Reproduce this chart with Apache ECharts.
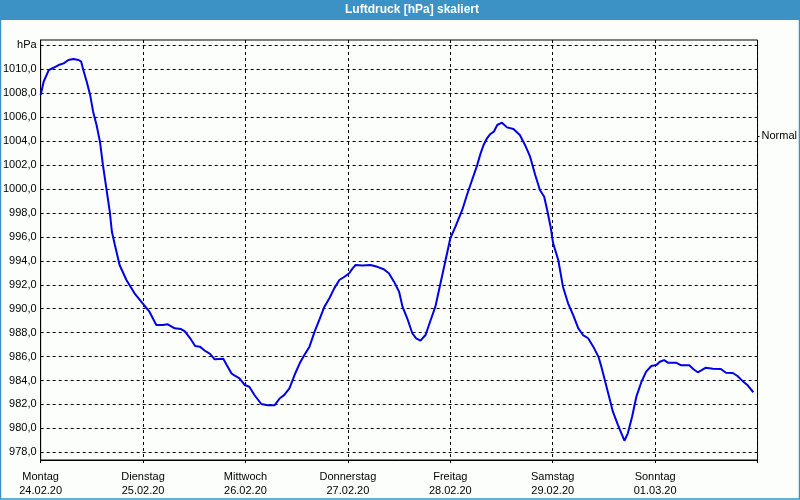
<!DOCTYPE html>
<html><head><meta charset="utf-8">
<script src="https://cdn.jsdelivr.net/npm/echarts@6/dist/echarts.min.js"></script>
<style>html,body{margin:0;padding:0;background:#fcfefc}#c{width:800px;height:500px}</style>
</head><body><div id="c"></div><script>
const titleText = 'Luftdruck [hPa] skaliert';
const dayNames = ['Montag','Dienstag','Mittwoch','Donnerstag','Freitag','Samstag','Sonntag'];
const dayDates = ['24.02.20','25.02.20','26.02.20','27.02.20','28.02.20','29.02.20','01.03.20'];
const yTickValues = [978,980,982,984,986,988,990,992,994,996,998,1000,1002,1004,1006,1008,1010,1012];
const yTickLabels = ['978,0','980,0','982,0','984,0','986,0','988,0','990,0','992,0','994,0','996,0','998,0','1000,0','1002,0','1004,0','1006,0','1008,0','1010,0','hPa'];
const normalValue = 1004.4;
const normalLabel = 'Normal';
const hours = [0,0.7,1.9,3.0,4.2,5.4,6.5,7.7,8.9,9.5,10.0,10.8,11.6,12.3,13.1,13.9,14.6,15.4,16.2,16.7,17.4,18.5,20.1,22.0,24.2,25.5,27.1,28.6,29.8,31.4,32.9,33.8,35.0,36.2,37.3,38.5,39.7,40.8,42.8,43.6,44.7,45.5,46.6,47.8,48.9,50.1,51.7,53.2,54.8,56.0,57.1,58.3,59.5,60.7,61.8,63.0,64.2,65.3,66.5,67.7,68.8,70.0,71.2,72.3,73.1,73.8,75.4,77.3,78.9,80.4,81.6,82.8,84.0,84.8,85.9,87.1,88.0,89.0,90.2,91.4,92.5,93.7,94.9,96.0,97.2,98.8,99.9,101.1,102.3,103.1,103.8,104.6,105.4,106.2,107.0,108.1,109.3,110.8,112.3,113.5,114.7,115.9,117.0,118.0,118.7,119.5,120.1,121.3,122.4,123.6,124.8,126.0,127.1,128.3,129.5,130.7,131.4,132.2,133.0,134.1,135.3,136.8,137.6,138.6,139.6,140.8,141.9,143.1,144.3,145.1,146.1,147.0,148.9,150.1,152.0,153.0,154.0,154.7,155.9,157.5,159.4,160.6,162.2,163.3,164.4,165.6,167.0];
const pressure = [1007.85,1008.96,1009.94,1010.13,1010.36,1010.5,1010.78,1010.86,1010.78,1010.64,1009.94,1008.96,1007.85,1006.46,1005.35,1003.95,1002.0,1000.06,998.1,996.43,995.32,993.65,992.4,991.29,990.31,989.75,988.64,988.64,988.7,988.36,988.3,988.1,987.55,986.88,986.83,986.49,986.22,985.77,985.82,985.3,984.6,984.4,984.18,983.63,983.48,982.79,982.04,981.93,981.93,982.5,982.8,983.35,984.46,985.44,986.13,986.83,988.08,989.06,990.17,990.9,991.7,992.4,992.67,992.96,993.37,993.65,993.6,993.65,993.5,993.3,992.96,992.26,991.42,990.17,989.2,987.95,987.53,987.33,987.8,989.06,990.17,992.12,994.07,995.88,996.85,998.25,999.5,1000.75,1002.0,1002.98,1003.68,1004.24,1004.6,1004.79,1005.35,1005.54,1005.15,1005.01,1004.51,1003.68,1002.7,1001.17,999.92,999.36,998.25,996.85,995.46,994.07,991.84,990.45,989.47,988.36,987.8,987.53,986.83,986.0,985.16,984.04,982.93,981.4,980.28,978.97,979.59,980.98,982.65,983.9,984.74,985.21,985.3,985.57,985.71,985.49,985.49,985.27,985.27,984.94,984.69,984.82,985.07,984.99,984.96,984.65,984.63,984.38,983.99,983.63,983.02];

const FONT = 'Liberation Sans';
const chart = echarts.init(document.getElementById('c'), null, {renderer: 'canvas'});
const yMin = 977.36, yMax = 1012.45;
chart.setOption({
  backgroundColor: '#fcfefc',
  animation: false,
  graphic: [
    {type: 'rect', shape: {x: 0, y: 0, width: 800, height: 20}, style: {fill: '#3c92c4'}, silent: true},
    {type: 'rect', shape: {x: 0.5, y: 0.5, width: 799, height: 498.5}, style: {fill: null, stroke: '#3c92c4', lineWidth: 1.5}, silent: true},
    {type: 'text', x: 412, y: 10, style: {text: titleText, fill: '#ffffff', font: 'bold 12px "Liberation Sans"', textAlign: 'center', textVerticalAlign: 'middle'}, silent: true}
  ],
  grid: {left: 40, right: 40, top: 40, bottom: 40, show: true, borderColor: '#000', borderWidth: 1, backgroundColor: 'transparent'},
  xAxis: {
    type: 'value', min: 0, max: 168, interval: 24,
    axisLine: {show: true, lineStyle: {color: '#000', width: 1}},
    axisTick: {show: true, length: 4, lineStyle: {color: '#000', type: [3, 2]}},
    axisLabel: {
      margin: 10, color: '#000', fontFamily: FONT, fontSize: 11, lineHeight: 14,
      formatter: v => { const i = Math.round(v / 24); return i < dayNames.length ? dayNames[i] + '\n' + dayDates[i] : ''; }
    },
    splitLine: {show: true, lineStyle: {color: '#000', type: [3, 3], width: 1}}
  },
  yAxis: [{
    type: 'value', min: yMin, max: yMax,
    axisLine: {show: true, lineStyle: {color: '#000', width: 1}},
    axisTick: {show: false, customValues: yTickValues},
    axisLabel: {
      customValues: yTickValues, margin: 4, color: '#000', fontFamily: FONT, fontSize: 11, padding: [3, 0, 0, 0],
      formatter: v => { const i = yTickValues.findIndex(t => Math.abs(t - v) < 0.01); return i >= 0 ? yTickLabels[i] : ''; }
    },
    splitLine: {show: true, customValues: yTickValues, lineStyle: {color: '#000', type: [3, 3], width: 1}}
  }, {
    type: 'value', min: yMin, max: yMax, position: 'right',
    axisLine: {show: false},
    axisTick: {show: true, length: 2, inside: false, customValues: [normalValue], lineStyle: {color: '#000'}},
    axisLabel: {customValues: [normalValue], margin: 4, color: '#000', fontFamily: FONT, fontSize: 11, padding: [2, 0, 0, 0], formatter: () => normalLabel},
    splitLine: {show: false}
  }],
  series: [{
    type: 'line', xAxisIndex: 0, yAxisIndex: 0,
    data: hours.map((h, i) => [h, pressure[i]]),
    symbol: 'none', smooth: false,
    lineStyle: {color: '#0000e6', width: 2},
    z: 5
  }]
});
</script></body></html>
